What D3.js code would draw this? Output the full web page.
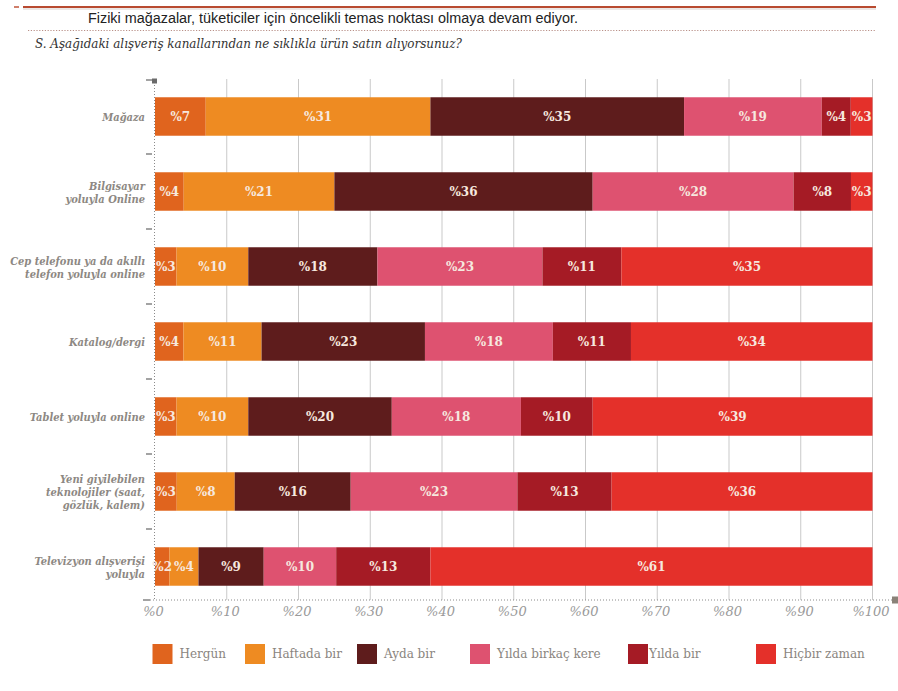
<!DOCTYPE html>
<html>
<head>
<meta charset="utf-8">
<script src="https://cdn.jsdelivr.net/npm/d3@7/dist/d3.min.js"></script>
<style>
  html, body { margin: 0; padding: 0; background: #ffffff; }
  svg { display: block; }
</style>
</head>
<body>
<svg id="chart" width="898" height="691"></svg>
<script>
// Shopping channels (one label line per array entry)
const categories = [
  ["Mağaza"],
  ["Bilgisayar", "yoluyla Online"],
  ["Cep telefonu ya da akıllı", "telefon yoluyla online"],
  ["Katalog/dergi"],
  ["Tablet yoluyla online"],
  ["Yeni giyilebilen", "teknolojiler (saat,", "gözlük, kalem)"],
  ["Televizyon alışverişi", "yoluyla"]
];

// Frequency answers, in stacking order
const seriesNames = ["Hergün", "Haftada bir", "Ayda bir", "Yılda birkaç kere", "Yılda bir", "Hiçbir zaman"];
const seriesColors = ["#e0641e", "#ee8b22", "#5e1c1c", "#de5270", "#a51b25", "#e4302a"];

// Percent of respondents per channel
const hergun       = [7, 4, 3, 4, 3, 3, 2];
const haftadaBir   = [31, 21, 10, 11, 10, 8, 4];
const aydaBir      = [35, 36, 18, 23, 20, 16, 9];
const yildaBirkac  = [19, 28, 23, 18, 18, 23, 10];
const yildaBir     = [4, 8, 11, 11, 10, 13, 13];
const hicbirZaman  = [3, 3, 35, 34, 39, 36, 61];

const tickValues = [0, 0.1, 0.2, 0.3, 0.4, 0.5, 0.6, 0.7, 0.8, 0.9, 1];
const tickLabels = ["%0", "%10", "%20", "%30", "%40", "%50", "%60", "%70", "%80", "%90", "%100"];

const title = "Fiziki mağazalar, tüketiciler için öncelikli temas noktası olmaya devam ediyor.";
const subtitle = "S. Aşağıdaki alışveriş kanallarından ne sıklıkla ürün satın alıyorsunuz?";

const seriesValues = [hergun, haftadaBir, aydaBir, yildaBirkac, yildaBir, hicbirZaman];
const rows = categories.map((c, i) => {
  const r = { key: i };
  seriesNames.forEach((s, j) => { r[s] = seriesValues[j][i]; });
  return r;
});

const svg = d3.select("#chart");

// Header rules and texts
svg.append("line").attr("x1", 14).attr("x2", 19).attr("y1", 7).attr("y2", 7)
  .attr("stroke", "#c0553a").attr("stroke-width", 1.5);
svg.append("line").attr("x1", 23).attr("x2", 876).attr("y1", 7).attr("y2", 7)
  .attr("stroke", "#b84a30").attr("stroke-width", 2);
svg.append("line").attr("x1", 23).attr("x2", 876).attr("y1", 9).attr("y2", 9)
  .attr("stroke", "#d9cfcb").attr("stroke-width", 1);
svg.append("text").attr("x", 88).attr("y", 23)
  .attr("font-family", "Liberation Sans, Arial, sans-serif").attr("font-size", 14)
  .attr("fill", "#222").attr("textLength", 490).attr("lengthAdjust", "spacingAndGlyphs")
  .text(title);
svg.append("line").attr("x1", 28).attr("x2", 876).attr("y1", 30.5).attr("y2", 30.5)
  .attr("stroke", "#b99088").attr("stroke-width", 1).attr("stroke-dasharray", "1.2,1.6");
svg.append("text").attr("x", 35).attr("y", 48)
  .attr("font-family", "DejaVu Serif, serif").attr("font-style", "italic")
  .attr("font-size", 12).attr("fill", "#333")
  .attr("textLength", 427).attr("lengthAdjust", "spacingAndGlyphs")
  .text(subtitle);

// Scales
const x = d3.scaleLinear().domain([0, 1]).range([155, 872.5]);
const y = d3.scaleBand().domain(d3.range(categories.length)).range([79, 604])
  .paddingInner(0.487).paddingOuter(0.2435);

const stack = d3.stack().keys(seriesNames).offset(d3.stackOffsetExpand);
const stacked = stack(rows);

// Vertical gridlines
svg.append("g").selectAll("line").data(tickValues.slice(1)).join("line")
  .attr("x1", d => x(d)).attr("x2", d => x(d))
  .attr("y1", 79).attr("y2", 600)
  .attr("stroke", "#c9c9c9").attr("stroke-width", 1);

// Bars
const layers = svg.append("g").selectAll("g").data(stacked).join("g")
  .attr("fill", (d, i) => seriesColors[i]);
layers.selectAll("rect").data(d => d).join("rect")
  .attr("x", d => x(d[0]))
  .attr("y", (d, i) => y(i))
  .attr("width", d => x(d[1]) - x(d[0]))
  .attr("height", y.bandwidth());

// Value labels
stacked.forEach((layer, j) => {
  svg.append("g").selectAll("text").data(layer).join("text")
    .attr("x", d => (x(d[0]) + x(d[1])) / 2)
    .attr("y", (d, i) => y(i) + y.bandwidth() / 2)
    .attr("dy", "0.36em")
    .attr("text-anchor", "middle")
    .attr("font-family", "DejaVu Serif, serif").attr("font-weight", "bold")
    .attr("font-size", 12).attr("fill", "#f6e8df")
    .text((d, i) => "%" + seriesValues[j][i]);
});

// Y axis: dotted spine, band boundary ticks and labels
svg.append("line").attr("x1", 154.5).attr("x2", 154.5).attr("y1", 82).attr("y2", 600)
  .attr("stroke", "#8a8a8a").attr("stroke-width", 1).attr("stroke-dasharray", "1,2");
svg.append("line").attr("x1", 146).attr("x2", 152).attr("y1", 80).attr("y2", 80)
  .attr("stroke", "#666").attr("stroke-width", 1.2);
svg.append("rect").attr("x", 152).attr("y", 78.5).attr("width", 5).attr("height", 5).attr("fill", "#6a6a6a");
svg.append("g").selectAll("line").data(d3.range(1, categories.length)).join("line")
  .attr("x1", 146).attr("x2", 152)
  .attr("y1", i => y(i) - y.step() * y.paddingInner() / 2)
  .attr("y2", i => y(i) - y.step() * y.paddingInner() / 2)
  .attr("stroke", "#666").attr("stroke-width", 1.2);

const catLabels = svg.append("g").selectAll("text").data(categories).join("text")
  .attr("text-anchor", "end")
  .attr("font-family", "DejaVu Serif, serif").attr("font-style", "italic").attr("font-weight", "bold")
  .attr("font-stretch", "condensed")
  .attr("font-size", 11).attr("fill", "#8d8883");
catLabels.each(function(lines, i) {
  const cy = y(i) + y.bandwidth() / 2 + 1;
  const lh = 13;
  const top = cy - (lines.length - 1) * lh / 2;
  d3.select(this).selectAll("tspan").data(lines).join("tspan")
    .attr("x", 145)
    .attr("y", (l, k) => top + k * lh)
    .attr("dy", "0.35em")
    .text(l => l);
});

// X axis
svg.append("line").attr("x1", 143).attr("x2", 150).attr("y1", 600).attr("y2", 600)
  .attr("stroke", "#666").attr("stroke-width", 1.2);
svg.append("line").attr("x1", 150).attr("x2", 893).attr("y1", 600).attr("y2", 600)
  .attr("stroke", "#8a8a8a").attr("stroke-width", 1).attr("stroke-dasharray", "1,2");
svg.append("rect").attr("x", 892).attr("y", 596.5).attr("width", 6).attr("height", 7).attr("fill", "#8a8278");

const xAxis = d3.axisBottom(x).tickValues(tickValues)
  .tickFormat((d, i) => tickLabels[i]).tickSize(0).tickPadding(7);
const xg = svg.append("g").attr("transform", "translate(0,600)").call(xAxis);
xg.select(".domain").remove();
xg.selectAll("text")
  .attr("font-family", "DejaVu Serif, serif").attr("font-style", "italic")
  .attr("font-size", 13).attr("fill", "#9a9a9a")
  .attr("dx", -2);

// Legend
const legendX = [152.5, 245, 357, 470, 628, 756];
const legend = svg.append("g").selectAll("g").data(seriesNames).join("g")
  .attr("transform", (d, i) => `translate(${legendX[i]},644)`);
legend.append("rect").attr("width", 20).attr("height", 20)
  .attr("fill", (d, i) => seriesColors[i]);
legend.append("text")
  .attr("x", (d, i) => i === 4 ? 21 : 27)
  .attr("y", 10).attr("dy", "0.35em")
  .attr("font-family", "DejaVu Serif, serif").attr("font-size", 12)
  .attr("fill", "#8a8580")
  .text(d => d);
</script>
</body>
</html>
